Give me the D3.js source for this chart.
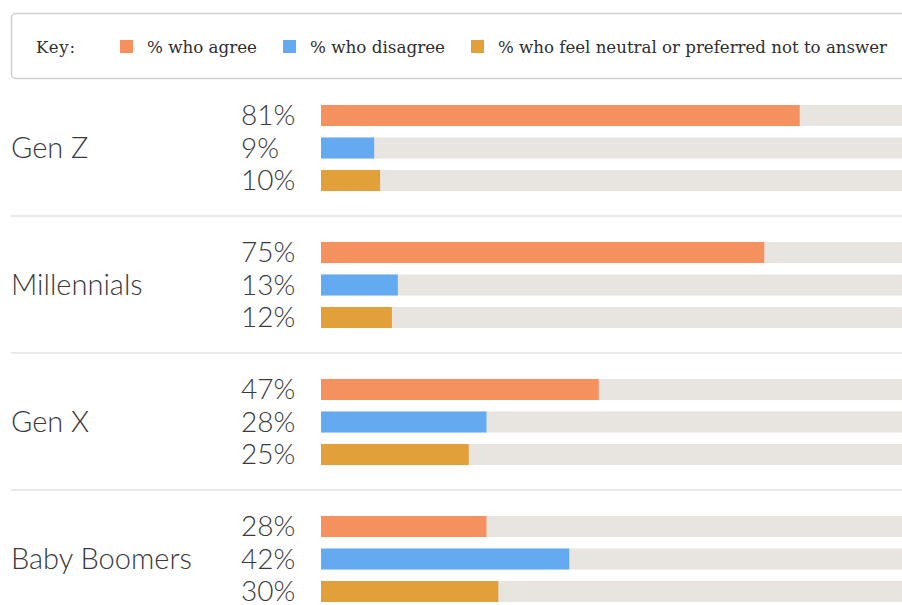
<!DOCTYPE html>
<html>
<head>
<meta charset="utf-8">
<script src="https://cdn.jsdelivr.net/npm/d3@7"></script>
<style>
  body { margin: 0; background: #fff; }
  svg { display: block; }
</style>
</head>
<body>
<div id="chart"></div>
<script>
(function(){

    var generations = ["Gen Z", "Millennials", "Gen X", "Baby Boomers"];
    var seriesNames = ["% who agree", "% who disagree", "% who feel neutral or preferred not to answer"];
    var agree = [81, 75, 47, 28];
    var disagree = [9, 13, 28, 42];
    var neutral = [10, 12, 25, 30];
    var colors = ["#f4915e", "#63aaf1", "#e2a03b"];

    var width = 902;
    var height = 605;

    var values = [agree, disagree, neutral];

    var svg = d3.select("#chart")
      .append("svg")
      .attr("width", width)
      .attr("height", height);

    // key box
    var key = svg.append("g");
    key.append("rect")
      .attr("x", 11.5).attr("y", 13.5)
      .attr("width", 905).attr("height", 65)
      .attr("rx", 4)
      .attr("fill", "#fff")
      .attr("stroke", "#cfcfcf")
      .attr("stroke-width", 1.5);
    key.append("text")
      .attr("x", 36).attr("y", 53)
      .attr("font-family", "DejaVu Serif")
      .attr("font-size", 16.5)
      .attr("fill", "#2e2e2e")
      .attr("textLength", 39)
      .text("Key:");

    var keyX = [120, 283, 471];
    var keyW = [110, 135, 389];   // widths of the key texts
    seriesNames.forEach(function(name, i){
      key.append("rect")
        .attr("x", keyX[i]).attr("y", 40)
        .attr("width", 13).attr("height", 13)
        .attr("fill", colors[i]);
      key.append("text")
        .attr("x", keyX[i] + 27).attr("y", 53)
        .attr("font-family", "DejaVu Serif")
        .attr("font-size", 16.5)
        .attr("textLength", keyW[i])
        .attr("lengthAdjust", "spacingAndGlyphs")
        .attr("fill", "#2e2e2e")
        .text(name);
    });

    var y = d3.scaleBand()
      .domain(generations)
      .range([79, 79 + 137 * generations.length]);

    var inner = d3.scaleBand()
      .domain(seriesNames)
      .range([26, 112])
      .paddingInner(0.354);

    var x = d3.scaleLinear()
      .domain([0, 100])
      .range([321, 912]);

    var groups = svg.selectAll("g.gen")
      .data(generations)
      .enter()
      .append("g")
      .attr("class", "gen")
      .attr("transform", function(d){ return "translate(0," + y(d) + ")"; });

    // separators
    groups.filter(function(d, i){ return i < generations.length - 1; })
      .append("line")
      .attr("x1", 11).attr("x2", width)
      .attr("y1", y.bandwidth()).attr("y2", y.bandwidth())
      .attr("stroke", "#e2e2e2")
      .attr("stroke-width", 1.5);

    groups.append("text")
      .attr("x", 11)
      .attr("y", inner(seriesNames[1]) + inner.bandwidth() / 2 + 10)
      .attr("font-family", "Lato")
      .attr("font-weight", 300)
      .attr("font-size", 29)
      .attr("fill", "#3a3a3a")
      .text(function(d){ return d; });

    groups.each(function(gen, gi){
      var g = d3.select(this);
      seriesNames.forEach(function(s, si){
        var v = values[si][gi];
        g.append("rect")
          .attr("x", x(0)).attr("y", inner(s))
          .attr("width", x(100) - x(0))
          .attr("height", inner.bandwidth())
          .attr("fill", "#e8e4df");
        g.append("rect")
          .attr("x", x(0)).attr("y", inner(s))
          .attr("width", x(v) - x(0))
          .attr("height", inner.bandwidth())
          .attr("fill", colors[si]);
        g.append("text")
          .attr("x", 241)
          .attr("y", inner(s) + inner.bandwidth() / 2 + 9.5)
          .attr("font-family", "Lato")
          .attr("font-weight", 300)
          .attr("font-size", 28)
          .attr("fill", "#3a3a3a")
          .text(v + "%");
      });
    });

})();
</script>
</body>
</html>
